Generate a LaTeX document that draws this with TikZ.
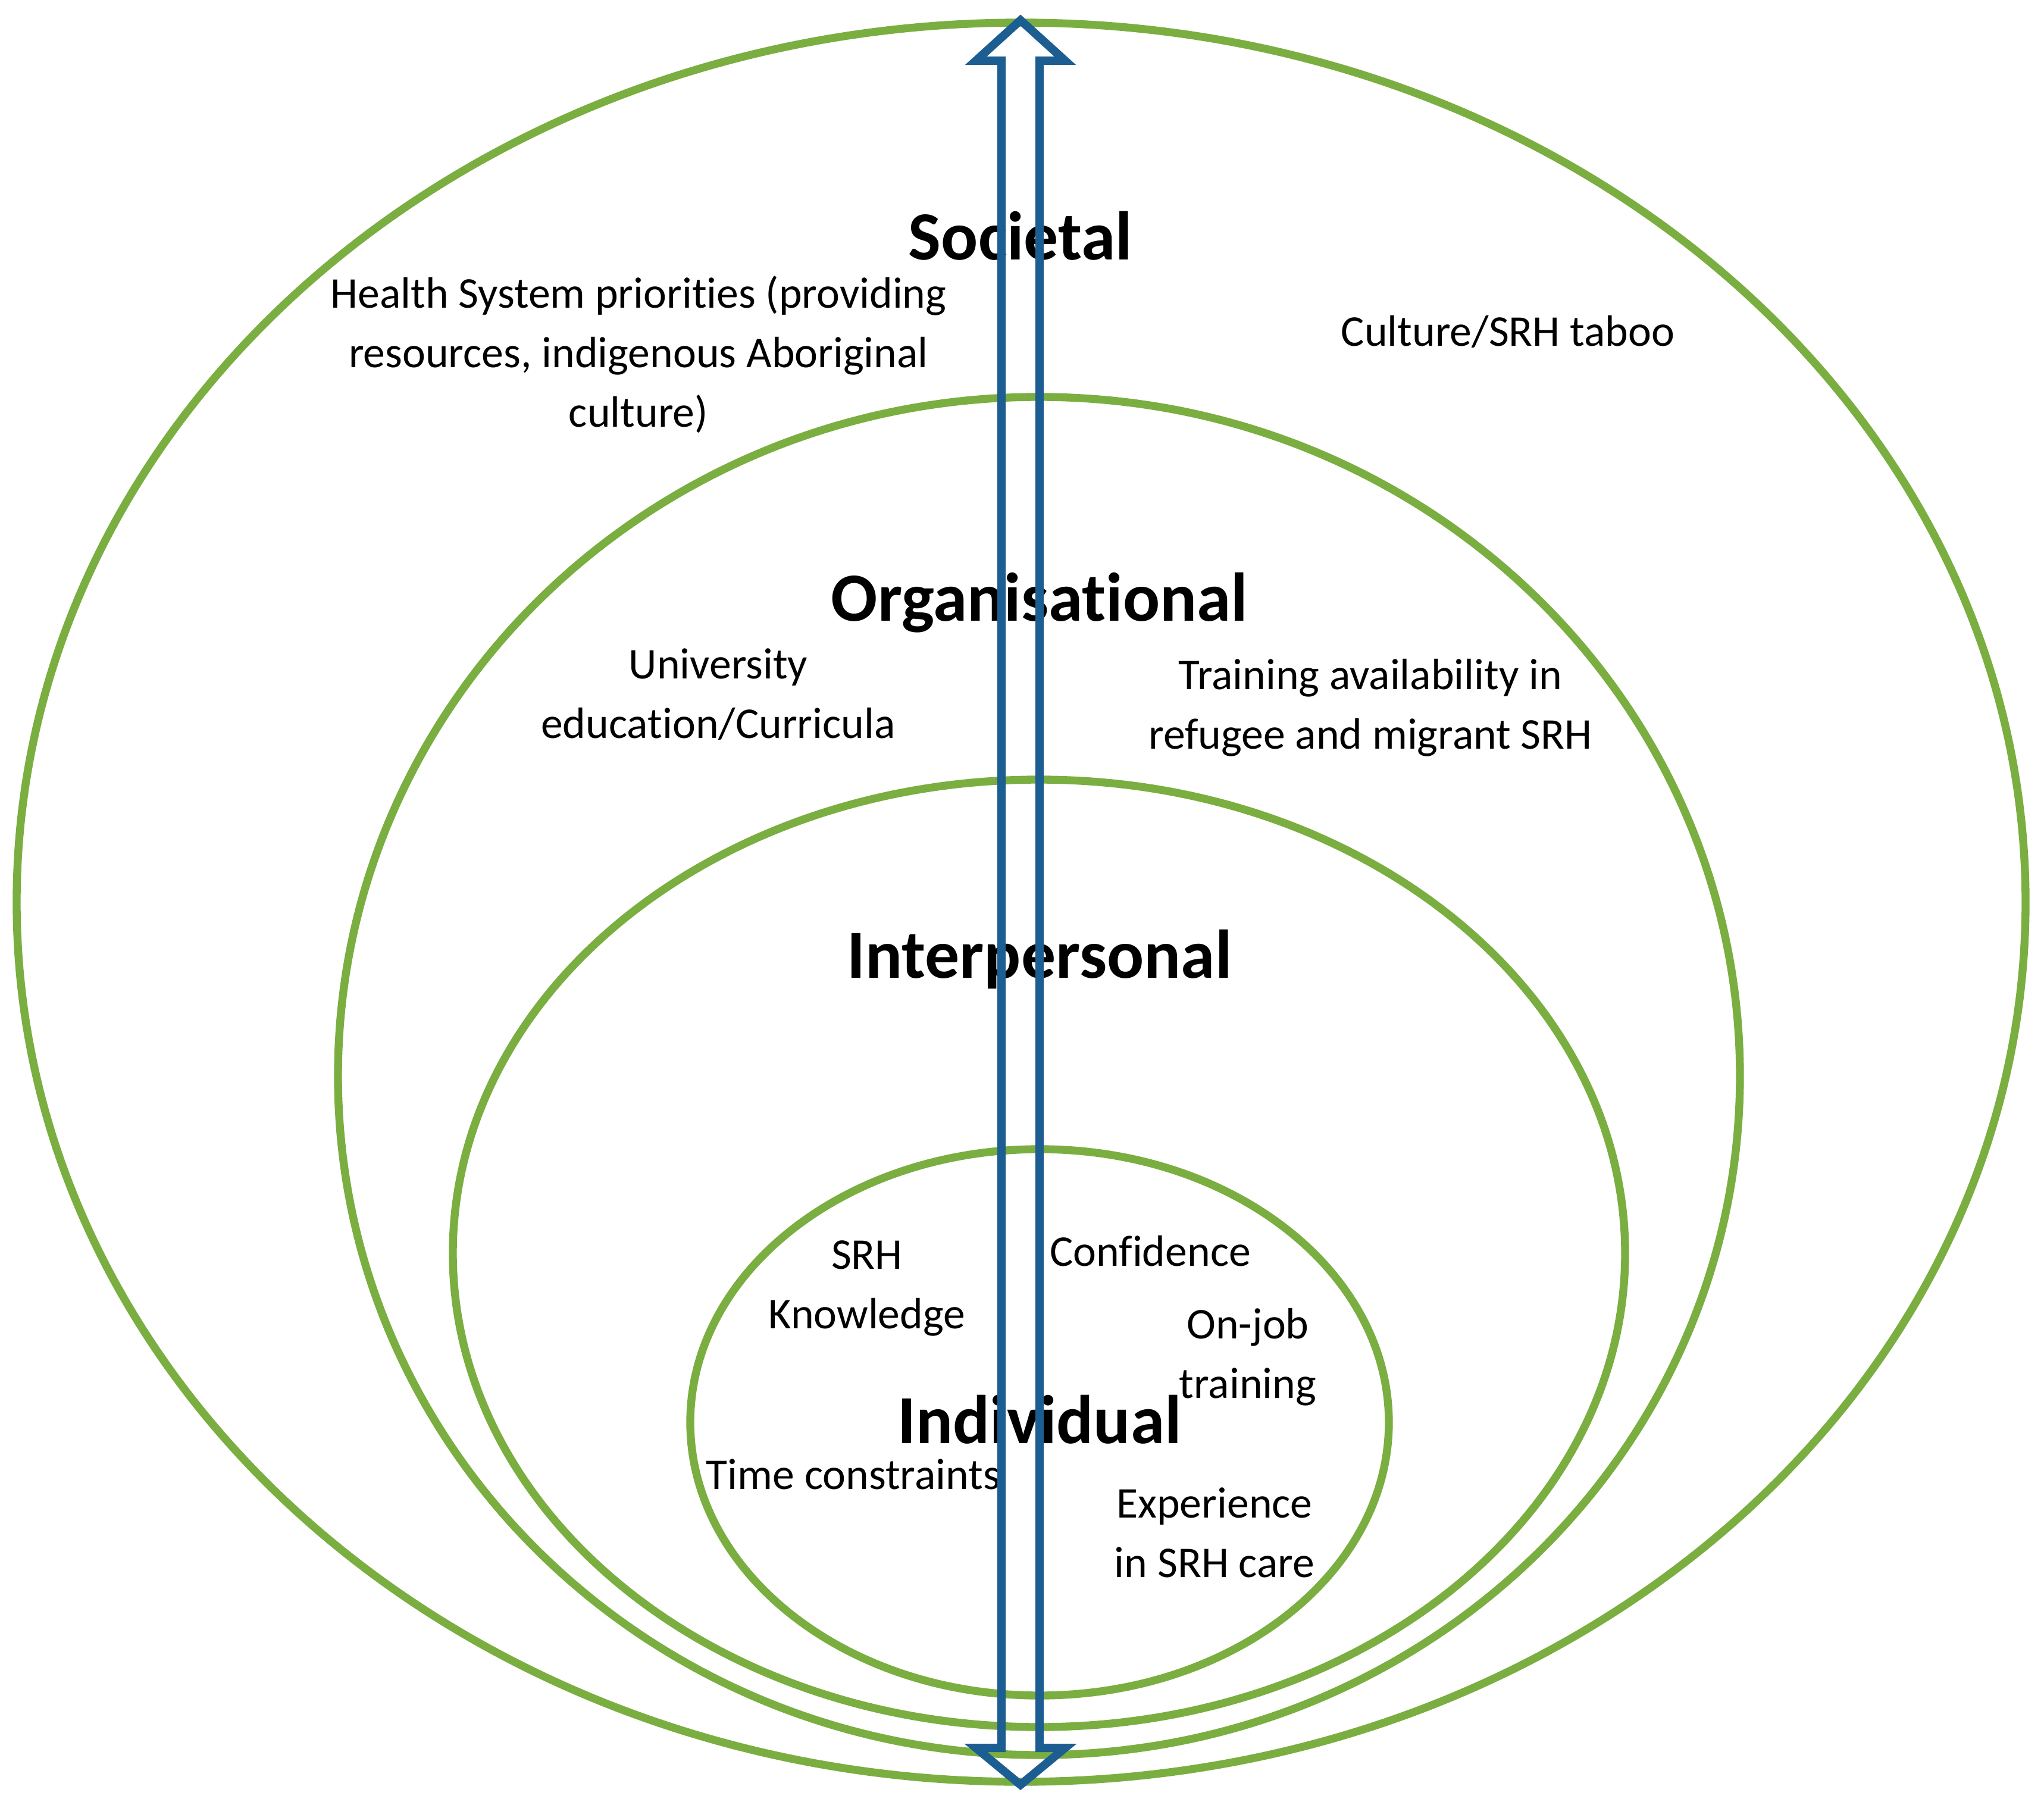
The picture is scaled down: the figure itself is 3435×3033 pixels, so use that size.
\documentclass[tikz,border=0pt]{standalone}
\usepackage{fontspec}
\setmainfont{Carlito}[Ligatures=NoCommon]
\usepackage{tikz}
\usetikzlibrary{calc}
\definecolor{ringgreen}{RGB}{122,174,64}
\definecolor{arrowblue}{RGB}{28,94,145}

\begin{document}
\begin{tikzpicture}[x=0.005cm,y=-0.005cm,
    ring/.style={draw=ringgreen,line width=1.9pt},
    level/.style={font=\bfseries\fontsize{16.5}{20}\selectfont,inner sep=0pt,anchor=base},
    factor/.style={font=\fontsize{10.5}{14.2}\selectfont,align=center,inner sep=0pt,anchor=base}]

    \useasboundingbox (0,0) rectangle (3435,3033);

    %% nested levels
    \draw[ring] (1716,1516) ellipse [x radius=1688,y radius=1478];
    \draw[ring] (1746,1808) ellipse [x radius=1178,y radius=1141];
    \draw[ring] (1746,2106) ellipse [x radius=985,y radius=796];
    \draw[ring] (1747,2390) ellipse [x radius=587,y radius=459];

    %% level names
    \node[level] (societal) at (1715,437) {Societal};
    \node[level] (organisational) at (1747,1043) {Organisational};
    \node[level] (interpersonal) at (1747,1643) {Interpersonal};
    \node[level] (individual) at (1747,2425) {Individual};

    %% societal factors (base = last line)
    \node[factor] (health) at (1073,717) {Health System priorities (providing\\resources, indigenous Aboriginal\\culture)};
    \node[factor] (taboo) at (2534,582) {Culture/SRH taboo};

    %% organisational factors
    \node[factor] (univ) at (1207,1240) {University\\education/Curricula};
    \node[factor] (train) at (2303,1258) {Training availability in\\refugee and migrant SRH};

    %% individual factors
    \node[factor] (knowledge) at (1457,2232) {SRH\\Knowledge};
    \node[factor] (confidence) at (1933,2127) {Confidence};
    \node[factor] (onjob) at (2097,2349) {On-job\\training};
    \node[factor] (time) at (1434,2502) {Time constraints};
    \node[factor] (experience) at (2041,2650) {Experience\\in SRH care};

    %% double headed block arrow
    \draw[arrowblue,line width=2pt,line join=miter]
      (1715,34) -- (1790,102) -- (1747,102) -- (1747,2937) -- (1790,2937)
      -- (1715,2999) -- (1640,2937) -- (1683,2937) -- (1683,102)
      -- (1640,102) -- cycle;

\end{tikzpicture}
\end{document}
